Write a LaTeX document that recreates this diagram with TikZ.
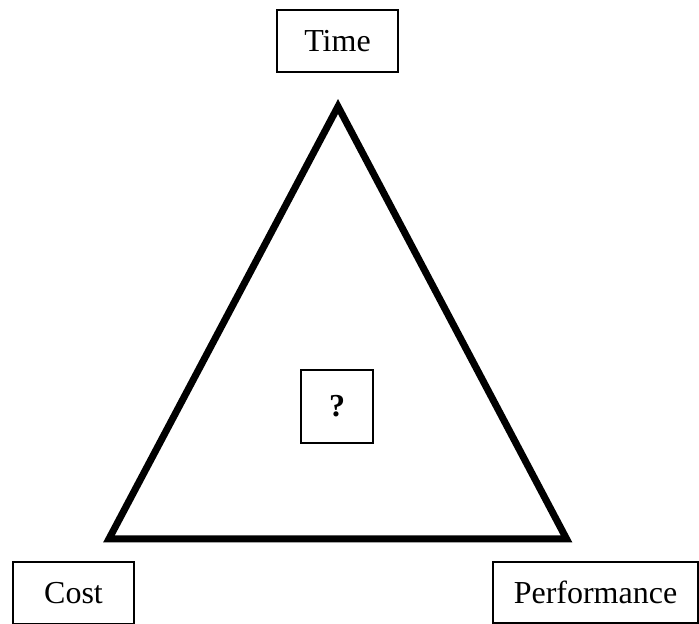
\documentclass[tikz,border=0pt]{standalone}
\usepackage{fontspec}
\setmainfont{Liberation Serif}
\begin{document}
\begin{tikzpicture}[x=1pt,y=-1pt,
  labelbox/.style={draw=black, line width=1.6pt, inner sep=0pt, font=\fontsize{32}{38}\selectfont}]
  \useasboundingbox (0,0) rectangle (699,624);
  % corner labels
  \node[labelbox, minimum width=121pt, minimum height=62pt] (time) at (337.5,41) {Time};
  \node[labelbox, minimum width=121pt, minimum height=62pt] (cost) at (73.5,593) {Cost};
  \node[labelbox, minimum width=205pt, minimum height=61pt] (perf) at (595.5,592.5) {Performance};
  % centre question
  \node[labelbox, minimum width=72pt, minimum height=73pt, font=\fontsize{32}{38}\selectfont\bfseries] (q) at (337,406.5) {?};
  % the triangle
  \draw[line width=7pt, line join=miter] (338,106.5) -- (566.5,538.8) -- (109,538.8) -- cycle;
\end{tikzpicture}
\end{document}
